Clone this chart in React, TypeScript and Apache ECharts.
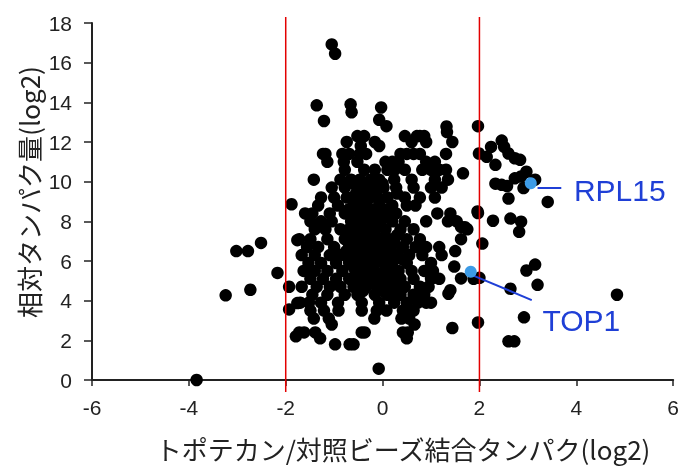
import React, { useEffect, useRef } from "react";
import * as echarts from "echarts";

// Axis ranges / ticks
const xMin = -6, xMax = 6, xStep = 2;
const yMin = 0, yMax = 18, yStep = 2;
const thresholds = [-2, 2];

// Titles
const xTitle = "トポテカン/対照ビーズ結合タンパク(log2)";
const yTitle = "相対タンパク量(log2)";

// Highlighted proteins [x, y]
const highlightNames = ["RPL15", "TOP1"];
const highlightPoints: [number, number][] = [[3.06, 9.92], [1.82, 5.46]];

// Sparse points outside the core
const leftPoints: [number, number][] = [
  [-3.84, 0.0], [-3.24, 4.27], [-3.02, 6.5], [-2.78, 6.5], [-2.51, 6.91], [-2.73, 4.55],
  [-2.17, 5.4], [-1.93, 4.7], [-1.93, 3.56], [-1.88, 8.86], [-1.79, 2.2], [-1.76, 7.05],
  [-1.76, 3.88],
];
const topPoints: [number, number][] = [
  [-1.05, 16.92], [-0.98, 16.45], [-1.36, 13.85], [-1.21, 13.06], [-0.66, 13.9], [-0.64, 13.5],
  [-0.03, 13.74], [-0.07, 13.12], [0.08, 12.8], [1.32, 12.78], [1.33, 12.5], [1.97, 12.8],
];
const lowPoints: [number, number][] = [
  [-0.08, 0.57], [1.44, 2.62], [1.97, 2.9], [2.6, 1.95], [2.72, 1.95], [2.92, 3.16],
];
const rightPoints: [number, number][] = [
  [4.84, 4.3], [3.41, 8.98], [3.15, 10.1], [3.15, 5.82], [2.97, 5.52], [3.2, 4.8],
  [2.64, 4.6], [1.97, 8.42], [2.06, 6.88], [2.28, 8.03], [2.86, 7.98], [2.82, 7.47],
  [2.64, 8.14], [1.99, 11.42], [2.15, 11.25], [2.33, 10.85], [2.24, 11.75], [2.46, 12.07],
  [2.51, 11.75], [2.6, 11.42], [2.73, 11.18], [2.84, 11.1], [2.33, 9.9], [2.46, 9.84],
  [2.57, 9.78], [2.6, 9.15], [2.73, 10.17], [2.86, 10.26], [2.97, 10.5], [2.91, 9.68],
  [1.66, 10.42], [1.62, 7.72], [1.48, 5.72], [1.62, 5.12], [1.4, 4.53], [1.36, 4.35],
  [1.88, 5.1], [2.0, 5.15], [1.96, 8.5], [1.7, 7.7], [1.4, 8.4], [1.5, 6.5],
];

// Core cluster, row by row: [y, x values]
const coreRows: [number, number[]][] = [
  [12.3, [-0.52, -0.38, 0.46, 0.71, 0.77, 0.86]],
  [12.0, [-0.74, -0.16, 0.6, 0.9, 1.44]],
  [11.8, [-0.07, -0.45]],
  [11.4, [-1.23, -1.18, -0.83, -0.69, -0.47, -0.34, 0.37, 0.5, 0.64, 0.77, 1.31]],
  [11.0, [-1.14, -0.8, -0.52, 0.06, 0.2, 0.33, 0.9, 1.08]],
  [10.6, [-0.78, -0.38, -0.16, 0.1, 0.25, 0.46, 0.82, 1.0, 1.17, 1.31]],
  [10.1, [-1.42, -0.87, -0.65, -0.47, -0.25, -0.1, -0.07, 0.24, 0.6, 1.08, 1.35]],
  [9.9, [-0.6, -0.3, 0.0]],
  [9.7, [-1.05, -0.78, -0.52, -0.35, -0.16, 0.02, 0.28, 0.64, 1.0, 1.22]],
  [9.4, [-0.55, -0.2, 0.3]],
  [9.2, [-1.27, -1.0, -0.74, -0.6, -0.43, -0.25, -0.1, 0.1, 0.46, 0.77, 1.08]],
  [8.8, [-1.33, -0.92, -0.6, -0.5, -0.34, -0.07, 0.2, 0.5, 0.68]],
  [8.6, [-0.7, -0.2, 0.1]],
  [8.4, [-1.6, -1.45, -1.09, -0.78, -0.52, -0.4, -0.29, 0.02, 0.28, 1.13]],
  [8.2, [-0.55, -0.15, 0.1]],
  [8.0, [-1.49, -1.27, -1.05, -0.65, -0.47, -0.35, -0.25, -0.07, 0.2, 0.46, 0.9, 1.35, 1.53]],
  [7.8, [-0.6, -0.25, -0.05]],
  [7.6, [-1.4, -1.18, -0.87, -0.69, -0.52, -0.45, -0.34, -0.16, 0.06, 0.37, 0.64, 1.75]],
  [7.3, [-0.5, -0.15, 0.3]],
  [7.1, [-1.72, -1.49, -1.14, -0.78, -0.6, -0.43, -0.35, -0.25, -0.03, 0.15, 0.5, 0.77, 1.62]],
  [6.9, [-0.7, -0.38, -0.2, 0.25]],
  [6.7, [-1.56, -1.33, -1.0, -0.65, -0.55, -0.47, -0.29, -0.12, 0.06, 0.42, 0.68, 0.9, 1.17]],
  [6.5, [-0.75, -0.5, -0.15, 0.15]],
  [6.3, [-1.67, -1.4, -1.09, -0.87, -0.6, -0.43, -0.35, -0.25, -0.07, 0.28, 0.55, 0.82, 1.22]],
  [6.1, [-0.7, -0.2, 0.1, 0.4]],
  [5.9, [-1.53, -1.27, -0.96, -0.69, -0.52, -0.45, -0.34, -0.16, 0.02, 0.2, 0.5, 1.0]],
  [5.7, [-0.6, -0.25, 0.2]],
  [5.5, [-1.63, -1.4, -1.14, -0.83, -0.56, -0.38, -0.16, 0.06, 0.33, 0.6, 0.86, 1.04]],
  [5.3, [-0.55, -0.1, 0.25]],
  [5.1, [-1.49, -1.23, -0.96, -0.69, -0.43, -0.25, -0.07, 0.1, 0.37, 0.64, 1.0, 1.17]],
  [4.9, [-0.5, 0.0, 0.3]],
  [4.7, [-1.67, -1.36, -1.09, -0.87, -0.6, -0.34, -0.12, 0.15, 0.46, 0.77, 0.95]],
  [4.5, [-0.4, 0.0, 0.25]],
  [4.3, [-1.45, -1.14, -0.78, -0.52, -0.16, 0.1, 0.37, 0.64, 0.86]],
  [3.9, [-1.7, -1.52, -1.27, -0.92, -0.43, -0.07, 0.24, 0.5, 0.73, 0.9, 1.0]],
  [3.5, [-1.49, -1.21, -0.91, -0.43, -0.12, 0.08, 0.42, 0.64]],
  [3.1, [-1.42, -1.11, -0.17, 0.39, 0.55]],
  [2.8, [-1.05, 0.66]],
  [2.4, [-1.72, -1.62, -1.39, -0.43, -0.37, 0.42, 0.52]],
  [2.1, [-1.29, 0.5]],
  [1.8, [-0.98, -0.68, -0.6]],
];

const blackPoints: [number, number][] = [
  ...leftPoints,
  ...topPoints,
  ...lowPoints,
  ...rightPoints,
  ...coreRows.flatMap(([y, xs]) => xs.map((x) => [x, y] as [number, number])),
];

// Leader lines [from, to] and label anchor positions (data units)
const leaderLines: [number, number][][] = [
  [[3.2, 9.68], [3.69, 9.68]],
  [[1.85, 5.29], [3.08, 4.03]],
];
const labelAnchors: [number, number][] = [[3.95, 9.57], [3.3, 3.02]];

const FONT = "'Liberation Sans', Arial, sans-serif";
const CJK = "'Noto Sans CJK JP', 'Noto Sans', sans-serif";

export default function App() {
  const ref = useRef<HTMLDivElement>(null);
  useEffect(() => {
    if (!ref.current) return;
    const chart = echarts.init(ref.current, undefined, { renderer: "svg" });
    const series: any[] = [
      {
        type: "scatter",
        data: blackPoints,
        symbolSize: 12.5,
        itemStyle: { color: "#000", opacity: 1 },
        z: 2,
      },
      ...thresholds.map((t) => ({
        type: "line",
        data: [[t, -0.6], [t, 18.3]],
        symbol: "none",
        clip: false,
        lineStyle: { color: "#e30000", width: 1.5 },
        z: 3,
      })),
      ...leaderLines.map((seg) => ({
        type: "line",
        data: seg,
        symbol: "none",
        clip: false,
        lineStyle: { color: "#1f3fd6", width: 2 },
        z: 4,
      })),
      {
        type: "scatter",
        data: highlightPoints,
        symbolSize: 12,
        itemStyle: { color: "#3d9be6", opacity: 1 },
        z: 5,
      },
    ];
    chart.setOption({
      animation: false,
      grid: { left: 92, right: 2, top: 23, bottom: 89 },
      xAxis: {
        type: "value",
        min: xMin,
        max: xMax,
        interval: xStep,
        splitLine: { show: false },
        axisLine: { onZero: false, lineStyle: { color: "#222", width: 2 } },
        axisTick: { show: true, length: 6, lineStyle: { color: "#222", width: 1.5 } },
        axisLabel: { color: "#222", fontSize: 21, fontFamily: FONT, margin: 17 },
      },
      yAxis: {
        type: "value",
        min: yMin,
        max: yMax,
        interval: yStep,
        splitLine: { show: false },
        axisLine: { show: true, onZero: false, lineStyle: { color: "#222", width: 2 } },
        axisTick: { show: true, length: 8, lineStyle: { color: "#222", width: 1.5 } },
        axisLabel: { color: "#222", fontSize: 21, fontFamily: FONT, margin: 20 },
      },
      series,
    });
    const labelGraphics = labelAnchors.map((p, i) => {
      const px = chart.convertToPixel({ xAxisIndex: 0, yAxisIndex: 0 }, p) as number[];
      return {
        type: "text",
        x: px[0],
        y: px[1],
        style: {
          text: highlightNames[i],
          fill: "#1f3fd6",
          font: `30px ${FONT}`,
          textAlign: "left",
          textVerticalAlign: "middle",
        },
        z: 10,
      };
    });
    chart.setOption({
      graphic: [
        ...labelGraphics,
        {
          type: "text",
          x: 403,
          y: 448,
          style: {
            text: xTitle,
            fill: "#222",
            font: `26px ${CJK}`,
            textAlign: "center",
            textVerticalAlign: "middle",
          },
        },
        {
          type: "text",
          x: 28,
          y: 192,
          rotation: Math.PI / 2,
          style: {
            text: yTitle,
            fill: "#222",
            font: `26px ${CJK}`,
            textAlign: "center",
            textVerticalAlign: "middle",
          },
        },
      ],
    });
    return () => chart.dispose();
  }, []);
  return <div ref={ref} style={{ width: 682, height: 469, position: "fixed", left: 0, top: 0 }} />;
}
